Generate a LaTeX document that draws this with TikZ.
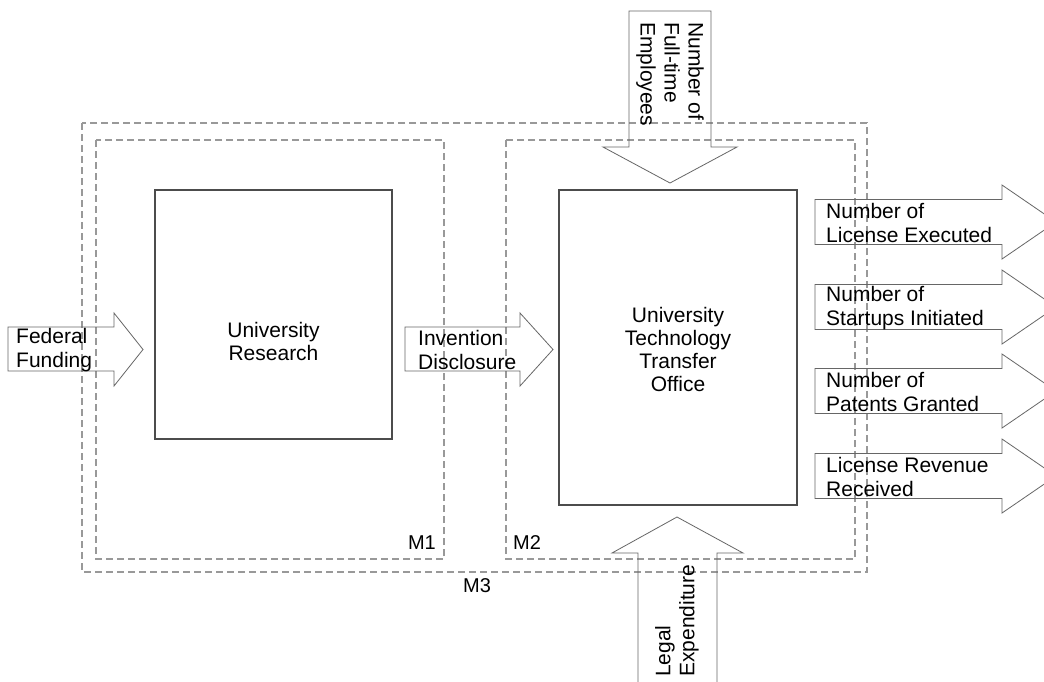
\documentclass[tikz,border=0pt]{standalone}
\usepackage{fontspec}
\setmainfont{Liberation Sans}
\begin{document}
\begin{tikzpicture}[x=1pt,y=-1pt,
  boxline/.style={draw=black!70, line width=1.1pt},
  grp/.style={draw=black!40, line width=1.2pt, dash pattern=on 7pt off 4pt},
  flow/.style={draw=black!60, line width=0.8pt},
  lbl/.style={font=\fontsize{21}{24}\selectfont, align=left, inner sep=0pt, text=black},
  ctr/.style={font=\fontsize{21}{23}\selectfont, align=center, inner sep=0pt, text=black},
  mlbl/.style={font=\fontsize{20}{22}\selectfont, inner sep=0pt, text=black}]
\clip (0,0) rectangle (1044,681);
\fill[white] (0,0) rectangle (1044,681);
% group boxes
\draw[grp] (82,123) rectangle (867,572);
\draw[grp] (96,140) rectangle (444,559);
\draw[grp] (506,140) rectangle (855,559);
\node[mlbl, anchor=east] (m1) at (436,543) {M1};
\node[mlbl, anchor=west] (m2) at (513,543) {M2};
\node[mlbl] (m3) at (477,586) {M3};
% process boxes
\node[boxline, minimum width=237pt, minimum height=249pt, inner sep=0pt] (ur) at (273.5,314.5) {};
\node[ctr] (urt) at (273.5,341) {University\\Research};
\node[boxline, minimum width=238pt, minimum height=315pt, inner sep=0pt] (tto) at (678,347.5) {};
\node[ctr] (ttot) at (678,349) {University\\Technology\\Transfer\\Office};
% federal funding
\draw[flow] (8,327) -- (114,327) -- (114,313) -- (143,349.5) -- (114,386) -- (114,371) -- (8,371) -- cycle;
\node[lbl, anchor=west] (ff) at (16,350) {Federal\\Funding};
% invention disclosure
\draw[flow] (405,327) -- (520,327) -- (520,313) -- (553,349.5) -- (520,386) -- (520,371) -- (405,371) -- cycle;
\node[lbl, anchor=west] (id) at (418,350) {Invention\\Disclosure};
% employees (down)
\draw[flow] (629,11) -- (711,11) -- (711,147) -- (737,147) -- (670,183) -- (603,147) -- (629,147) -- cycle;
\node[lbl, rotate=-90, anchor=west] (emp) at (670,22) {Number of\\Full-time\\Employees};
% legal expenditure (up)
\draw[flow] (638,685) -- (638,553) -- (612,553) -- (677,517) -- (743,553) -- (717,553) -- (717,685);
\node[lbl, rotate=90, anchor=west] (legal) at (677,677) {Legal\\Expenditure};
% outputs
\foreach \c/\t/\n in {222/{Number of\\License Executed}/o1, 307/{Number of\\Startups Initiated}/o2, 391/{Number of\\Patents Granted}/o3, 476/{License Revenue\\Received}/o4}{
  \draw[flow] (815,\c-22.5) -- (1002,\c-22.5) -- (1002,\c-37) -- (1056,\c) -- (1002,\c+37) -- (1002,\c+22.5) -- (815,\c+22.5) -- cycle;
  \node[lbl, anchor=west] (\n) at (826,\c+1) {\t};
}
\end{tikzpicture}
\end{document}
